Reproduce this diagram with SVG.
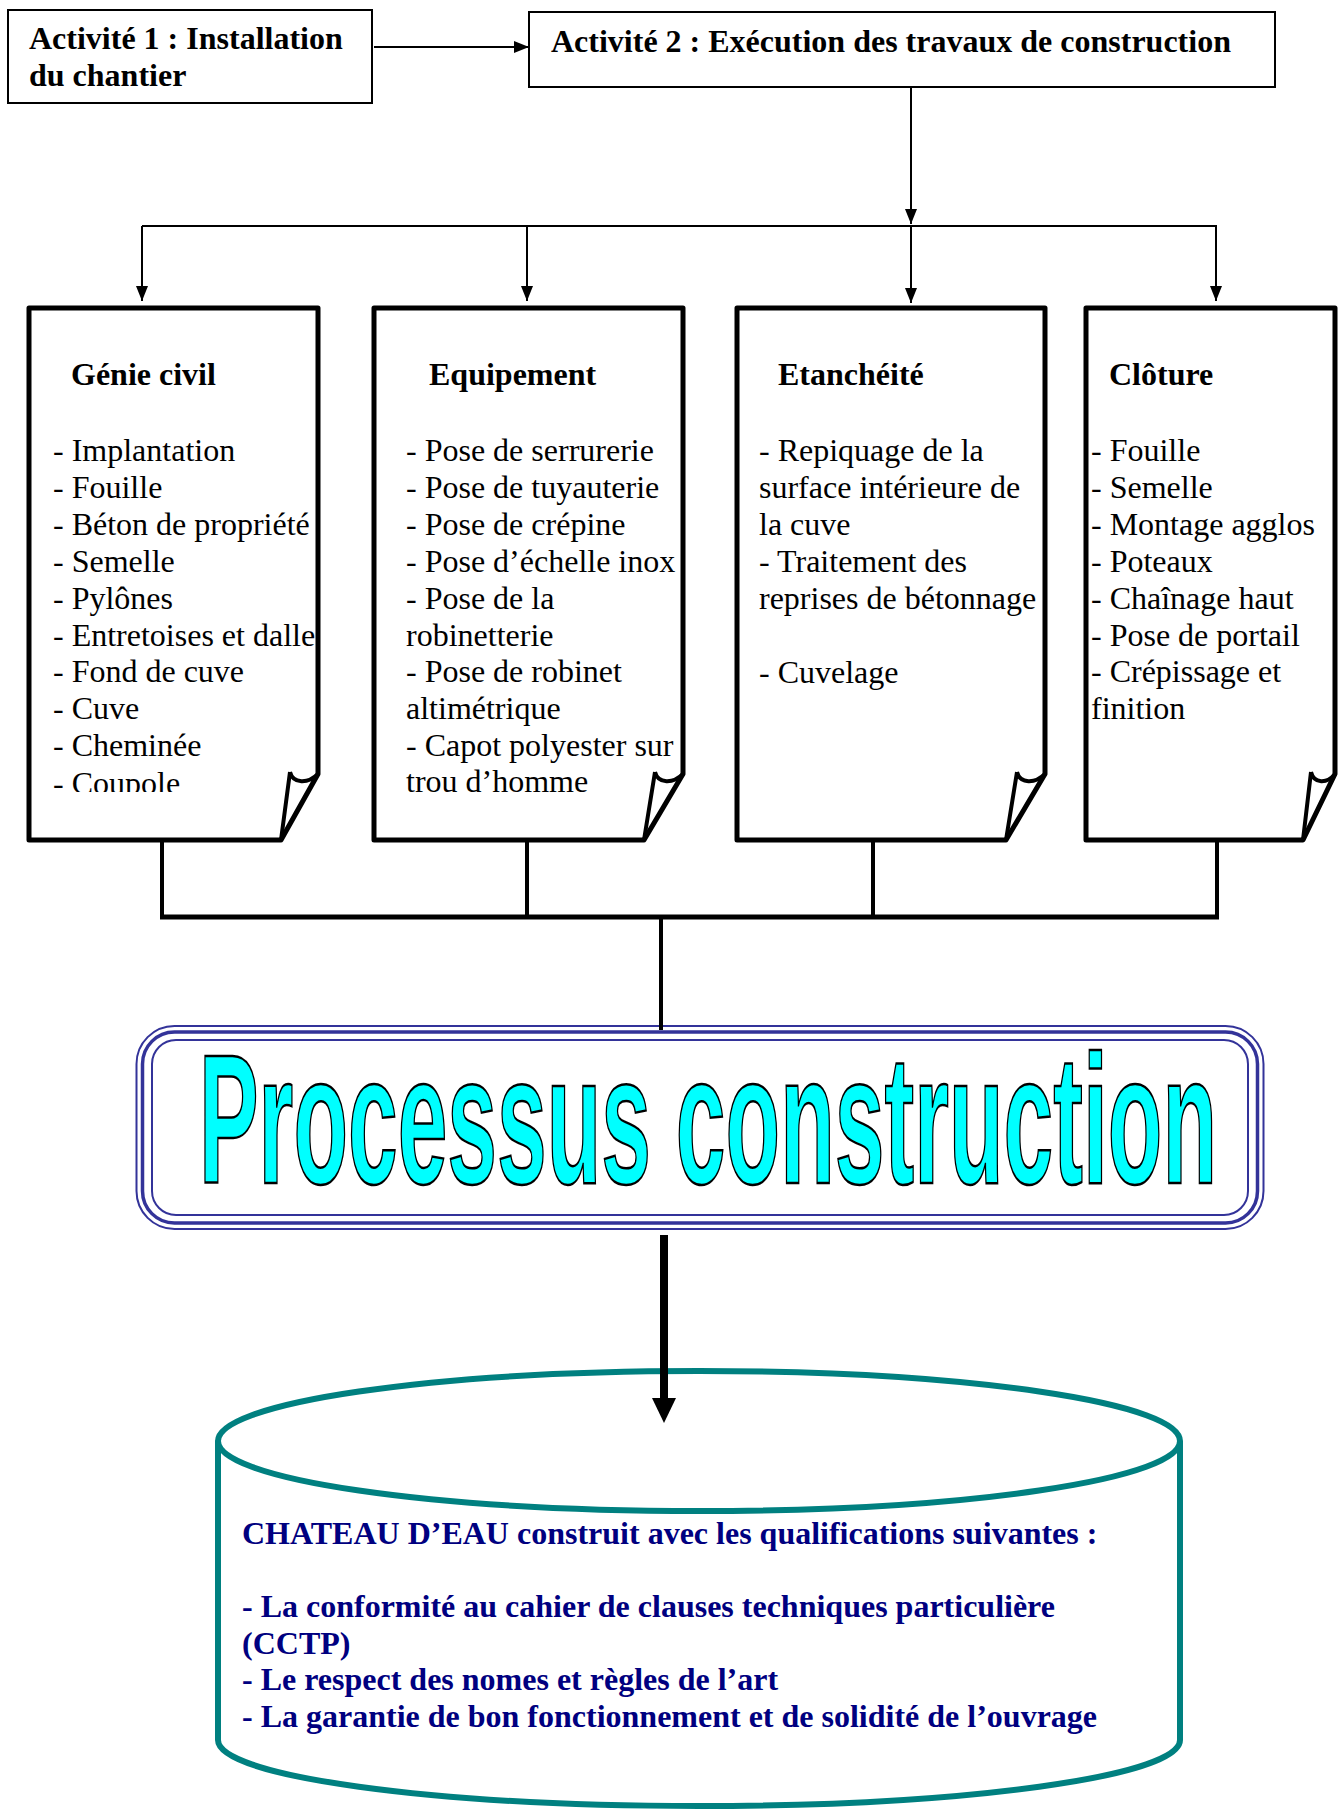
<svg xmlns="http://www.w3.org/2000/svg" width="1339" height="1809" viewBox="0 0 1339 1809">
<style>
.t{font-family:"Liberation Serif","Times New Roman",serif;font-size:32px;fill:#000}
.b{font-weight:bold}
.nv{fill:#000080;font-weight:bold}
.box{fill:#fff;stroke:#000;stroke-width:2}
.doc{fill:#fff;stroke:#000;stroke-width:5;stroke-linejoin:round}
.fold{fill:none;stroke:#000;stroke-width:4;stroke-linejoin:round}
.thin{fill:none;stroke:#000;stroke-width:2}
.thick{fill:none;stroke:#000;stroke-width:4}
.nb{fill:none;stroke:#333399}
</style>
<defs>
<marker id="ah" markerUnits="userSpaceOnUse" markerWidth="15" markerHeight="12" refX="15" refY="6" orient="auto">
<path d="M0,0 L15,6 L0,12 z" fill="#000"/>
</marker>
<clipPath id="clipText"><rect x="0" y="300" width="1339" height="492"/></clipPath>
</defs>
<rect width="1339" height="1809" fill="#fff"/>

<g id="activite1">
<rect class="box" x="8" y="10" width="364" height="93"/>
<text class="t b" x="29" y="49">Activité 1 : Installation</text>
<text class="t b" x="29" y="86">du chantier</text>
</g>

<g id="activite2">
<rect class="box" x="529" y="12" width="746" height="75"/>
<text class="t b" x="551" y="52">Activité 2 : Exécution des travaux de construction</text>
</g>

<g id="genie-civil">
<path class="doc" d="M29,308 H318 V774 L281,840 H29 Z"/>
<path class="fold" d="M290,772 L281,840 M290,772 C293,784 308,784 318,774"/>
<text class="t b" x="71" y="385">Génie civil</text>
<g clip-path="url(#clipText)">
<text class="t" x="53" y="461">- Implantation</text>
<text class="t" x="53" y="498">- Fouille</text>
<text class="t" x="53" y="535">- Béton de propriété</text>
<text class="t" x="53" y="572">- Semelle</text>
<text class="t" x="53" y="609">- Pylônes</text>
<text class="t" x="53" y="646">- Entretoises et dalle</text>
<text class="t" x="53" y="682">- Fond de cuve</text>
<text class="t" x="53" y="719">- Cuve</text>
<text class="t" x="53" y="756">- Cheminée</text>
<text class="t" x="53" y="794">- Coupole</text>
</g>
</g>

<g id="equipement">
<path class="doc" d="M374,308 H683 V774 L644,840 H374 Z"/>
<path class="fold" d="M655,772 L644,840 M655,772 C658,784 673,784 683,774"/>
<text class="t b" x="429" y="385">Equipement</text>
<text class="t" x="406" y="461">- Pose de serrurerie</text>
<text class="t" x="406" y="498">- Pose de tuyauterie</text>
<text class="t" x="406" y="535">- Pose de crépine</text>
<text class="t" x="406" y="572">- Pose d’échelle inox</text>
<text class="t" x="406" y="609">- Pose de la</text>
<text class="t" x="406" y="646">robinetterie</text>
<text class="t" x="406" y="682">- Pose de robinet</text>
<text class="t" x="406" y="719">altimétrique</text>
<text class="t" x="406" y="756">- Capot polyester sur</text>
<text class="t" x="406" y="792">trou d’homme</text>
</g>

<g id="etancheite">
<path class="doc" d="M737,308 H1045 V774 L1006,840 H737 Z"/>
<path class="fold" d="M1017,772 L1006,840 M1017,772 C1020,784 1035,784 1045,774"/>
<text class="t b" x="778" y="385">Etanchéité</text>
<text class="t" x="759" y="461">- Repiquage de la</text>
<text class="t" x="759" y="498">surface intérieure de</text>
<text class="t" x="759" y="535">la cuve</text>
<text class="t" x="759" y="572">- Traitement des</text>
<text class="t" x="759" y="609">reprises de bétonnage</text>
<text class="t" x="759" y="683">- Cuvelage</text>
</g>

<g id="cloture">
<path class="doc" d="M1086,308 H1335 V774 L1303,840 H1086 Z"/>
<path class="fold" d="M1311,772 L1303,840 M1311,772 C1314,784 1327,784 1335,774"/>
<text class="t b" x="1109" y="385">Clôture</text>
<text class="t" x="1091" y="461">- Fouille</text>
<text class="t" x="1091" y="498">- Semelle</text>
<text class="t" x="1091" y="535">- Montage agglos</text>
<text class="t" x="1091" y="572">- Poteaux</text>
<text class="t" x="1091" y="609">- Chaînage haut</text>
<text class="t" x="1091" y="646">- Pose de portail</text>
<text class="t" x="1091" y="682">- Crépissage et</text>
<text class="t" x="1091" y="719">finition</text>
</g>

<g id="processus">
<rect x="136.5" y="1026" width="1127" height="203" rx="38" fill="#fff" stroke="#333399" stroke-width="2"/>
<rect class="nb" x="142.5" y="1032" width="1115" height="191" rx="32" stroke-width="3.5"/>
<rect class="nb" x="152" y="1040" width="1096" height="175" rx="24" stroke-width="2"/>
<text x="199" y="1183" textLength="1018" lengthAdjust="spacingAndGlyphs" font-family="'Liberation Sans',Arial,sans-serif" font-weight="bold" font-size="183" fill="#00FFFF" stroke="#000" stroke-width="2.5">Processus construction</text>
</g>

<g id="chateau-deau">
<path d="M218,1441 V1740 A481,66 0 0,0 1180,1740 V1441" fill="#fff" stroke="#008080" stroke-width="6"/>
<ellipse cx="699" cy="1441" rx="481" ry="70" fill="#fff" stroke="#008080" stroke-width="6"/>
<text class="t nv" x="242" y="1544">CHATEAU D’EAU construit avec les qualifications suivantes :</text>
<text class="t nv" x="242" y="1617">- La conformité au cahier de clauses techniques particulière</text>
<text class="t nv" x="242" y="1654">(CCTP)</text>
<text class="t nv" x="242" y="1690">- Le respect des nomes et règles de l’art</text>
<text class="t nv" x="242" y="1727">- La garantie de bon fonctionnement et de solidité de l’ouvrage</text>
</g>

<g id="connectors">
<line class="thin" x1="374" y1="47" x2="529" y2="47" marker-end="url(#ah)"/>
<line class="thin" x1="911" y1="88" x2="911" y2="224" marker-end="url(#ah)"/>
<line class="thin" x1="142" y1="226" x2="1217" y2="226"/>
<line class="thin" x1="142" y1="226" x2="142" y2="301" marker-end="url(#ah)"/>
<line class="thin" x1="527" y1="226" x2="527" y2="301" marker-end="url(#ah)"/>
<line class="thin" x1="911" y1="226" x2="911" y2="303" marker-end="url(#ah)"/>
<line class="thin" x1="1216" y1="226" x2="1216" y2="301" marker-end="url(#ah)"/>
<line class="thick" x1="162" y1="840" x2="162" y2="917"/>
<line class="thick" x1="527" y1="840" x2="527" y2="917"/>
<line class="thick" x1="873" y1="840" x2="873" y2="917"/>
<line class="thick" x1="1217" y1="840" x2="1217" y2="917"/>
<line stroke="#000" stroke-width="5" x1="160" y1="917" x2="1219" y2="917"/>
<line class="thick" x1="661" y1="917" x2="661" y2="1030"/>
<line stroke="#000" stroke-width="8" x1="664" y1="1235" x2="664" y2="1400"/>
<path d="M652,1398 H676 L664,1423 Z" fill="#000"/>
</g>
</svg>
